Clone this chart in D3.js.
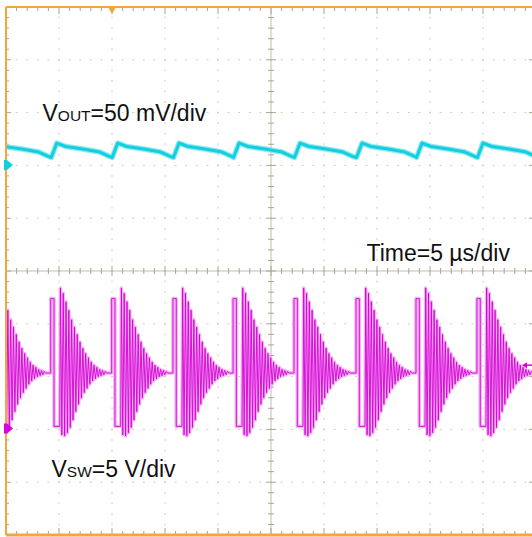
<!DOCTYPE html>
<html><head><meta charset="utf-8">
<script src="https://cdn.jsdelivr.net/npm/d3@7/dist/d3.min.js"></script>
<style>html,body{margin:0;padding:0;background:#fff;overflow:hidden}</style>
</head><body>
<svg id="c" width="532" height="537"></svg>
<script>
// ---- data ----
const timeDomainUs = [-25, 25];          // 10 div x 5 us/div
const divDomain = [-5, 5];               // 10 vertical divisions
const triggerTimeUs = -15;               // orange trigger marker at top
const swTriggerLevelV = 6.0;             // magenta arrow at right edge

// VSW (5 V/div), rising edges of each switching pulse (us)
const swEdgesUs = [-26.53, -20.78, -15.03, -9.25, -3.58, 2.17, 8.02, 13.68, 19.43];
const swHighV = 12.3;
const swLowV = 0.2;
const swSettleV = 5.25;
const swHighDurUs = 0.31;
const swLowDurUs = 0.54;
const ringStepUs = 0.132;
const ringPeaksV = [13.3, -0.6, 12.8, -0.7, 12.0, -0.4, 11.2, 0.1, 10.3, 0.8, 9.6, 1.6,
                    8.9, 2.3, 8.2, 2.9, 7.6, 3.4, 7.1, 3.8, 6.7, 4.2, 6.3, 4.5, 6.0, 4.7,
                    5.8, 4.9, 5.6, 5.0, 5.5, 5.1, 5.4];

// VOUT ripple (50 mV/div, AC), shape after each switching edge
const voutShapeDtUs = [0.05, 0.57, 1.42, 3.02, 4.62, 5.57];
const voutShapeMv   = [7.1, 20.8, 17.5, 15.2, 12.3, 8.0];

// ---- scales ----
const svg = d3.select('#c');
const x = d3.scaleLinear().domain(timeDomainUs).range([6, 536]);
const yDiv = d3.scaleLinear().domain(divDomain).range([535, 7]);
const ySw = d3.scaleLinear().domain([0, 5]).range([428.5, 375.7]);
const yOut = d3.scaleLinear().domain([0, 50]).range([165, 112.2]);

svg.append('rect').attr('width', 532).attr('height', 537).attr('fill', '#fff');

const defs = svg.append('defs');
defs.append('clipPath').attr('id', 'plot')
  .append('rect').attr('x', x(-25)).attr('y', yDiv(5)).attr('width', x(25) - x(-25)).attr('height', yDiv(-5) - yDiv(5));

// ---- grid ----
const majX = d3.range(-25, 25.001, 5);
const minX = d3.range(-25, 25.001, 1);
const majY = d3.range(-5, 5.001, 1);
const minY = d3.range(-5, 5.001, 0.2);
const g = svg.append('g');
const dotCol = '#d0ccbf', tickCol = '#aaa493', lineCol = '#c2bdae';

majX.filter(v => Math.abs(v) > 0.01 && Math.abs(Math.abs(v) - 25) > 0.01).forEach(mx => {
  minY.forEach(my => g.append('rect').attr('x', x(mx) - 0.5).attr('y', yDiv(my) - 1).attr('width', 1).attr('height', 2).attr('fill', dotCol));
});
majY.filter(v => Math.abs(v) > 0.01 && Math.abs(Math.abs(v) - 5) > 0.01).forEach(my => {
  minX.forEach(mx => g.append('rect').attr('x', x(mx) - 1).attr('y', yDiv(my) - 0.5).attr('width', 2).attr('height', 1).attr('fill', dotCol));
});
// center cross
g.append('line').attr('x1', x(0)).attr('x2', x(0)).attr('y1', yDiv(5)).attr('y2', yDiv(-5)).attr('stroke', lineCol).attr('stroke-width', 1);
g.append('line').attr('x1', x(-25)).attr('x2', x(25)).attr('y1', yDiv(0)).attr('y2', yDiv(0)).attr('stroke', lineCol).attr('stroke-width', 1);
const isMaj = v => Math.abs(v - Math.round(v)) < 0.01;
minY.forEach(my => {
  const L = isMaj(my) ? 5 : 3;
  g.append('line').attr('x1', x(0) - L).attr('x2', x(0) + L).attr('y1', yDiv(my)).attr('y2', yDiv(my)).attr('stroke', tickCol);
  g.append('line').attr('x1', x(-25)).attr('x2', x(-25) + (isMaj(my) ? 5 : 3)).attr('y1', yDiv(my)).attr('y2', yDiv(my)).attr('stroke', tickCol);
  g.append('line').attr('x1', x(25)).attr('x2', x(25) - (isMaj(my) ? 7 : 4)).attr('y1', yDiv(my)).attr('y2', yDiv(my)).attr('stroke', tickCol);
});
minX.forEach(mx => {
  const maj = Math.abs(mx / 5 - Math.round(mx / 5)) < 0.01;
  const L = maj ? 5 : 3;
  g.append('line').attr('x1', x(mx)).attr('x2', x(mx)).attr('y1', yDiv(0) - L).attr('y2', yDiv(0) + L).attr('stroke', tickCol);
  g.append('line').attr('x1', x(mx)).attr('x2', x(mx)).attr('y1', yDiv(5)).attr('y2', yDiv(5) + (maj ? 7 : 4)).attr('stroke', tickCol);
  g.append('line').attr('x1', x(mx)).attr('x2', x(mx)).attr('y1', yDiv(-5)).attr('y2', yDiv(-5) - (maj ? 7 : 4)).attr('stroke', tickCol);
});

// ---- traces ----
const tr = svg.append('g').attr('clip-path', 'url(#plot)');

// VSW
const sw = [];
swEdgesUs.forEach((e, i) => {
  sw.push([e, swSettleV], [e, swHighV], [e + swHighDurUs, swHighV], [e + swHighDurUs, swLowV]);
  const rs = e + swHighDurUs + swLowDurUs;
  sw.push([rs, swLowV]);
  ringPeaksV.forEach((v, k) => sw.push([rs + (k + 0.5) * ringStepUs, v]));
  sw.push([rs + (ringPeaksV.length + 0.5) * ringStepUs, swSettleV]);
  const next = i + 1 < swEdgesUs.length ? swEdgesUs[i + 1] : 26;
  sw.push([next, swSettleV]);
});
const swLine = d3.line().x(d => x(d[0])).y(d => ySw(d[1]));
tr.append('path').attr('d', swLine(sw)).attr('fill', 'none').attr('stroke', '#f3b2f3').attr('stroke-width', 3.5).attr('stroke-linejoin', 'round');
tr.append('path').attr('d', swLine(sw)).attr('fill', 'none').attr('stroke', '#d600d6').attr('stroke-width', 0.9).attr('stroke-linejoin', 'round');

// VOUT
const vo = [];
swEdgesUs.forEach(e => voutShapeDtUs.forEach((dt, k) => vo.push([e + dt, voutShapeMv[k]])));
const voLine = d3.line().x(d => x(d[0])).y(d => yOut(d[1]));
tr.append('path').attr('d', voLine(vo)).attr('fill', 'none').attr('stroke', '#94e9f0').attr('stroke-width', 5.5).attr('stroke-linejoin', 'round');
tr.append('path').attr('d', voLine(vo)).attr('fill', 'none').attr('stroke', '#12cfe0').attr('stroke-width', 3).attr('stroke-linejoin', 'round');

// ---- border ----
const orange = '#f3a63b';
svg.append('line').attr('x1', x(-25)).attr('x2', x(-25)).attr('y1', yDiv(5)).attr('y2', yDiv(-5)).attr('stroke', orange).attr('stroke-width', 2);
svg.append('line').attr('x1', x(-25)).attr('x2', 532).attr('y1', yDiv(5)).attr('y2', yDiv(5)).attr('stroke', orange).attr('stroke-width', 2);
svg.append('line').attr('x1', x(-25)).attr('x2', 532).attr('y1', yDiv(-5)).attr('y2', yDiv(-5)).attr('stroke', orange).attr('stroke-width', 3);

// markers
const tx = x(triggerTimeUs), ty = yDiv(5);
svg.append('path').attr('d', `M${tx - 4},${ty} L${tx + 4},${ty} L${tx},${ty + 7} Z`).attr('fill', orange);
function chMarker(yv, col) {
  const x0 = x(-25);
  svg.append('path').attr('d', `M${x0 - 2},${yv - 5} L${x0 + 1},${yv - 5} L${x0 + 7},${yv} L${x0 + 1},${yv + 5} L${x0 - 2},${yv + 5} Z`).attr('fill', col);
}
chMarker(yOut(0), '#12cfe0');
chMarker(ySw(0), '#dc00dc');
const ly = ySw(swTriggerLevelV);
svg.append('path').attr('d', `M522,${ly} L527,${ly - 3} L527,${ly + 3} Z`).attr('fill', '#dc00dc');
svg.append('line').attr('x1', 526).attr('x2', 532).attr('y1', ly).attr('y2', ly).attr('stroke', '#dc00dc').attr('stroke-width', 1.5);

// ---- labels ----
const font = '"Liberation Sans", Arial, sans-serif';
function label(px, py, main, sub, rest) {
  const t = svg.append('text').attr('x', px).attr('y', py).attr('font-family', font).attr('font-size', 23).attr('fill', '#111');
  t.append('tspan').text(main);
  if (sub) t.append('tspan').attr('font-size', 15.5).text(sub);
  t.append('tspan').text(rest);
}
label(42.5, 121, 'V', 'OUT', '=50 mV/div');
label(366.5, 261, 'Time=5 µs/div', '', '');
label(51.5, 477, 'V', 'SW', '=5 V/div');
</script>
</body></html>
